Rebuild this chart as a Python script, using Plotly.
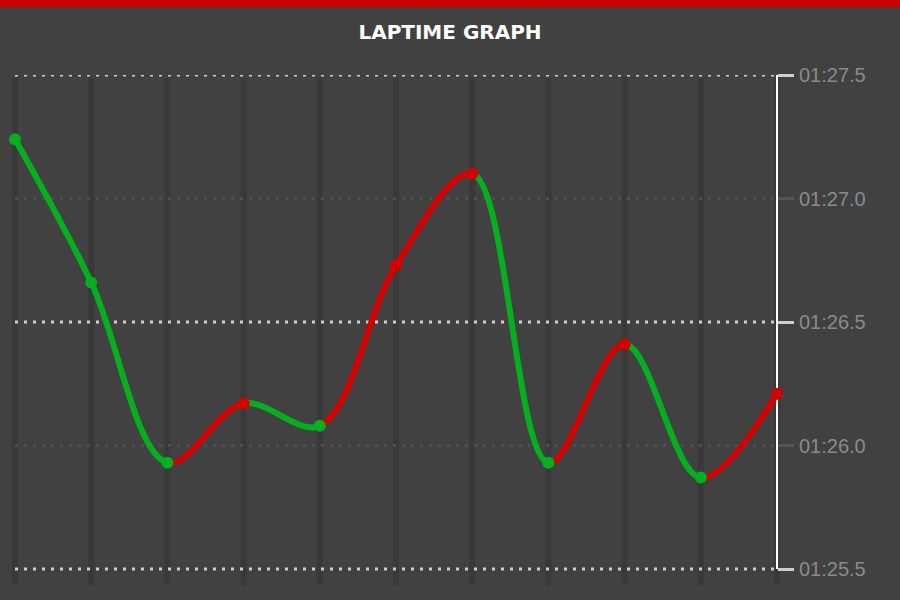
import plotly.graph_objects as go

# ---- data ----
lap_numbers = [1, 2, 3, 4, 5, 6, 7, 8, 9, 10, 11]
lap_times = [87.24, 86.66, 85.93, 86.17, 86.08, 86.73, 87.10, 85.93, 86.41, 85.87, 86.21]
major_ticks = [85.5, 86.5, 87.5]
minor_ticks = [86.0, 87.0]
title_text = "LAPTIME GRAPH"

GREEN = "#05b01f"
RED = "#d50000"
BG = "#414141"


def fmt(v):
    m = int(v // 60)
    s = v - 60 * m
    return f"{m:02d}:{s:04.1f}"


# ---- geometry ----
W, H = 900, 600
M_T, M_B = 75, 15
X0_PX = 15.0          # pixel of first lap
UNIT = 76.2           # pixels per lap
MAIN_RIGHT_PX = 790.0
PH = H - M_T - M_B
Y_TOP, Y_BOT = 87.5, 87.5 - PH / 247.0

first = lap_numbers[0]
x_range_main = [first - X0_PX / UNIT, first + (MAIN_RIGHT_PX - X0_PX) / UNIT]
main_domain = [0, MAIN_RIGHT_PX / W]
axis_pos = (X0_PX + UNIT * (lap_numbers[-1] - first)) / W

fig = go.Figure()

tickfont = dict(family="Liberation Sans, Arial", size=20, color="#8a8a8a")
layout = dict(
    width=W, height=H, autosize=False,
    margin=dict(l=0, r=0, t=M_T, b=M_B, pad=0),
    paper_bgcolor=BG, plot_bgcolor="rgba(0,0,0,0)",
    showlegend=False,
    title=dict(text="<b>" + title_text + "</b>", x=0.5, xanchor="center",
               y=1 - 32 / H, yanchor="middle",
               font=dict(family="DejaVu Sans", size=20, color="white")),
    xaxis=dict(domain=main_domain, range=x_range_main, anchor="y",
               showticklabels=False, ticks="", showgrid=False,
               zeroline=False, showline=False),
    yaxis=dict(range=[Y_BOT, Y_TOP], anchor="free", position=axis_pos, side="right",
               tickvals=major_ticks, ticktext=[fmt(v) for v in major_ticks],
               ticks="outside", ticklen=16, tickwidth=3, tickcolor="#cfcfcf",
               tickfont=tickfont, ticklabelstandoff=1,
               showgrid=False, zeroline=False, showline=False, automargin=False),
    yaxis2=dict(range=[Y_BOT, Y_TOP], anchor="free", position=axis_pos, side="right",
                overlaying="y",
                tickvals=minor_ticks, ticktext=[fmt(v) for v in minor_ticks],
                ticks="outside", ticklen=16, tickwidth=3, tickcolor="#555555",
                tickfont=tickfont, ticklabelstandoff=1,
                showgrid=False, zeroline=False, showline=False, automargin=False),
)

# segment axes: each clips the full spline to one lap interval
n_seg = len(lap_numbers) - 1
for i in range(n_seg):
    k = i + 2
    d0 = (X0_PX + UNIT * (lap_numbers[i] - first)) / W
    d1 = (X0_PX + UNIT * (lap_numbers[i + 1] - first)) / W
    layout[f"xaxis{k}"] = dict(domain=[d0, d1], range=[lap_numbers[i], lap_numbers[i + 1]],
                               anchor="y", visible=False, showgrid=False, zeroline=False)
    color = GREEN if lap_times[i + 1] < lap_times[i] else RED
    fig.add_trace(go.Scatter(
        x=lap_numbers, y=lap_times, xaxis=f"x{k}", yaxis="y", mode="lines",
        line=dict(shape="spline", smoothing=1.0, color=color, width=6, simplify=False),
        hoverinfo="skip"))

# marker axis drawn last
km = n_seg + 2
layout[f"xaxis{km}"] = dict(domain=main_domain, range=x_range_main, anchor="y",
                            visible=False, showgrid=False, zeroline=False)
marker_colors = [GREEN] + [GREEN if lap_times[j] < lap_times[j - 1] else RED
                           for j in range(1, len(lap_times))]
fig.add_trace(go.Scatter(x=lap_numbers, y=lap_times, xaxis=f"x{km}", yaxis="y",
                         mode="markers", cliponaxis=False,
                         marker=dict(size=12, color=marker_colors, line=dict(width=0))))

# dummy trace to bind the minor-tick axis
fig.add_trace(go.Scatter(x=[None], y=[None], xaxis="x", yaxis="y2", mode="markers",
                         hoverinfo="skip"))

shapes = []
# vertical grid bands at each lap
for lap in lap_numbers:
    shapes.append(dict(type="line", xref="x", yref="y", x0=lap, x1=lap,
                       y0=Y_BOT, y1=Y_TOP - 3 / 247.0, layer="below",
                       line=dict(color="#393939", width=6)))
for v in minor_ticks:
    shapes.append(dict(type="line", xref="x", yref="y", x0=lap_numbers[0], x1=lap_numbers[-1],
                       y0=v, y1=v, layer="below",
                       line=dict(color="#4f4f4f", width=3, dash="3px,6px")))
for v in major_ticks:
    shapes.append(dict(type="line", xref="x", yref="y", x0=lap_numbers[0], x1=lap_numbers[-1],
                       y0=v, y1=v, layer="below",
                       line=dict(color="#cfcfcf", width=3, dash="3px,6px")))
# right axis line
shapes.append(dict(type="line", xref="x", yref="y", x0=lap_numbers[-1], x1=lap_numbers[-1],
                   y0=major_ticks[0], y1=major_ticks[-1], layer="below",
                   line=dict(color="white", width=2)))
# red top bar
shapes.append(dict(type="rect", xref="paper", yref="paper", x0=0, x1=1,
                   y0=(H - M_B - 7) / PH, y1=(H - M_B) / PH,
                   fillcolor="#cc0000", line=dict(width=0), layer="above"))
layout["shapes"] = shapes

fig.update_layout(**layout)
fig.write_html("out.html",
               config={"displayModeBar": False},
               post_script="document.body.style.margin='0';document.body.style.padding='0';")
